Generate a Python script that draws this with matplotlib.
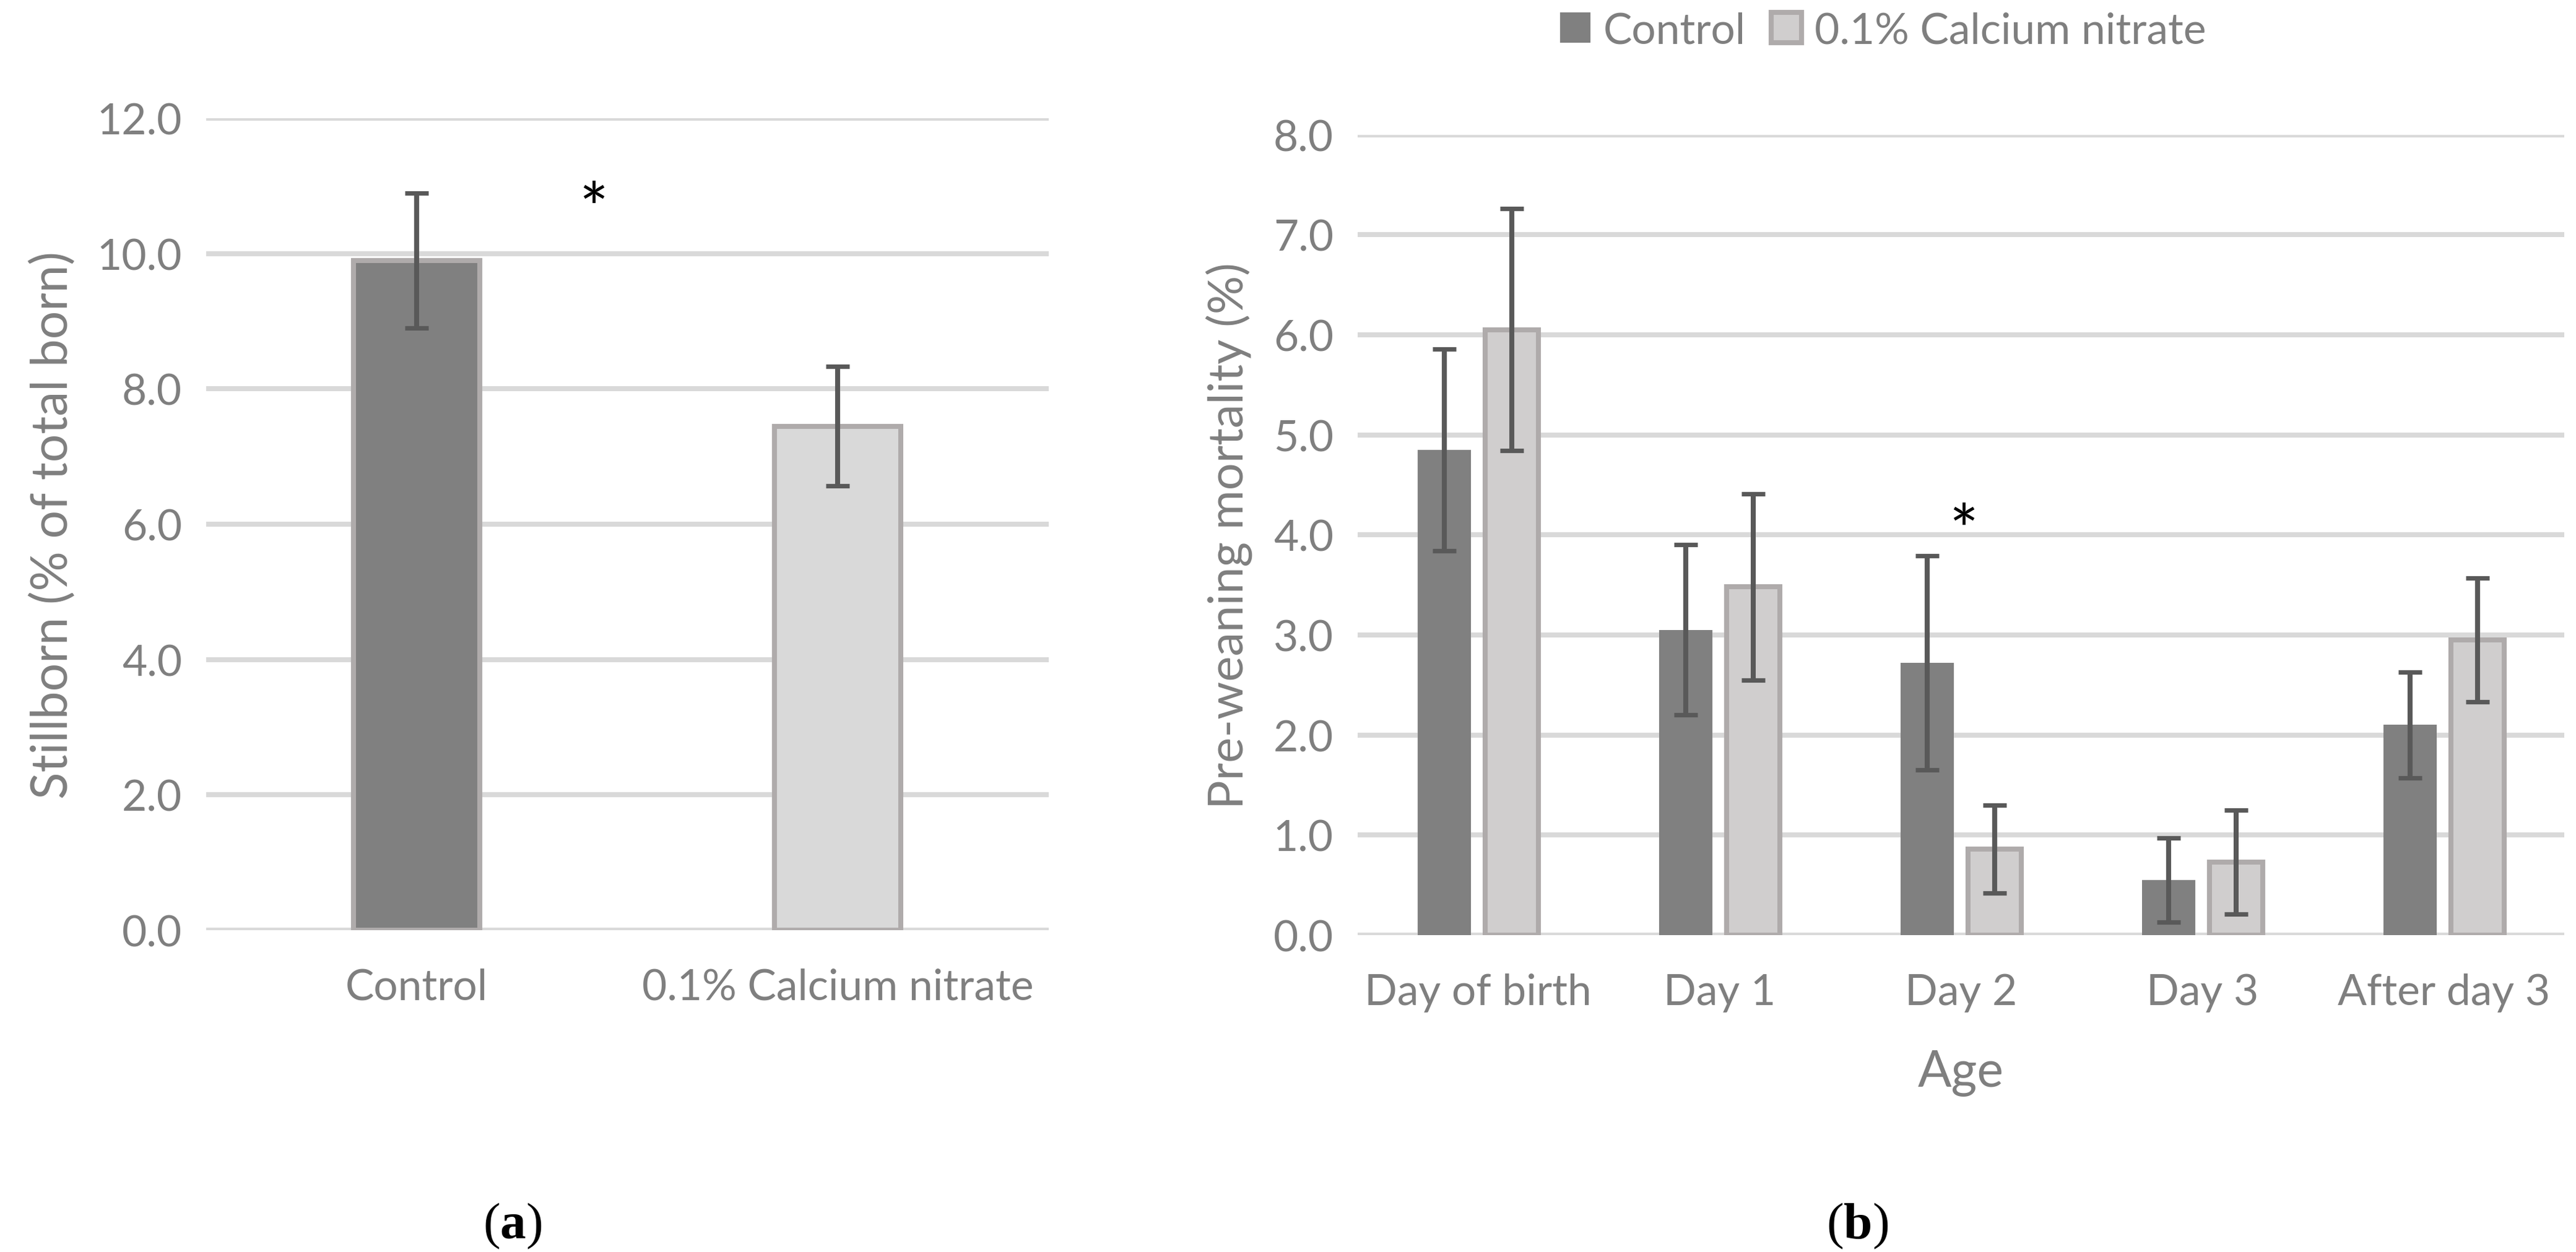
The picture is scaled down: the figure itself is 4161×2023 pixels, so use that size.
import matplotlib
matplotlib.use("Agg")
import matplotlib.pyplot as plt
import numpy as np

plt.rcParams['font.family'] = ['Lato', 'DejaVu Sans']
plt.rcParams['mathtext.fontset'] = 'custom'
plt.rcParams['mathtext.rm'] = 'Liberation Serif'
plt.rcParams['mathtext.bf'] = 'Liberation Serif:bold'

# panel (a)
groups_a = ["Control", "0.1% Calcium nitrate"]
stillborn = [9.9, 7.45]
stillborn_err = [1.0, 0.88]

# panel (b)
ages = ["Day of birth", "Day 1", "Day 2", "Day 3", "After day 3"]
ctrl = [4.85, 3.05, 2.72, 0.55, 2.1]
ctrl_err = [1.01, 0.85, 1.07, 0.42, 0.53]
calc = [6.05, 3.48, 0.86, 0.73, 2.95]
calc_err = [1.21, 0.93, 0.44, 0.52, 0.62]
series = ["Control", "0.1% Calcium nitrate"]

TXT = "#7f7f7f"
GRID = "#d9d9d9"
ERR = "#595959"
EDGE = "#afabab"
DARK = "#808080"

fig = plt.figure(figsize=(20.805, 10.12), dpi=200)

def style(ax, ymax, step):
    ax.set_ylim(0, ymax)
    ax.set_yticks(np.arange(0, ymax + 0.01, step))
    ax.set_yticklabels(["%.1f" % v for v in np.arange(0, ymax + 0.01, step)])
    ax.yaxis.grid(True, color=GRID, linewidth=2.9)
    ax.set_axisbelow(True)
    for s in ax.spines.values():
        s.set_visible(False)
    ax.tick_params(length=0, labelsize=25, colors=TXT, pad=14)
    ax.tick_params(axis='x', pad=22)

# ---- (a)
ax1 = fig.add_axes([0.080, 0.257, 0.327, 0.648])
xa = np.arange(len(groups_a))
ax1.bar(xa, stillborn, width=0.30, color=[DARK, "#d9d9d9"], edgecolor=EDGE, linewidth=2.9)
ax1.errorbar(xa, stillborn, yerr=stillborn_err, fmt="none", ecolor=ERR,
             elinewidth=2.9, capsize=7, capthick=2.6)
ax1.set_xlim(-0.5, 1.5)
style(ax1, 12, 2)
ax1.set_xticks(xa)
ax1.set_xticklabels(groups_a)
ax1.set_ylabel("Stillborn (% of total born)", fontsize=29, color=TXT, labelpad=12)
ax1.text(0.42, 10.6, "*", fontsize=40, ha="center", va="center", color="black")

# ---- (b)
ax2 = fig.add_axes([0.527, 0.253, 0.4685, 0.639])
xb = np.arange(len(ages))
w = 0.22
off = 0.14
ax2.bar(xb - off, ctrl, width=w, color=DARK, linewidth=0, label=series[0])
ax2.bar(xb + off, calc, width=w, color="#d0cece", edgecolor=EDGE, linewidth=2.9, label=series[1])
ax2.errorbar(xb - off, ctrl, yerr=ctrl_err, fmt="none", ecolor=ERR,
             elinewidth=2.9, capsize=7, capthick=2.6)
ax2.errorbar(xb + off, calc, yerr=calc_err, fmt="none", ecolor=ERR,
             elinewidth=2.9, capsize=7, capthick=2.6)
ax2.set_xlim(-0.5, 4.5)
style(ax2, 8, 1)
ax2.set_xticks(xb)
ax2.set_xticklabels(ages)
ax2.set_xlabel("Age", fontsize=29, color=TXT, labelpad=22)
ax2.set_ylabel("Pre-weaning mortality (%)", fontsize=28, color=TXT, labelpad=12)
ax2.text(2.01, 4.0, "*", fontsize=40, ha="center", va="center", color="black")

fig.legend(loc="center", bbox_to_anchor=(0.731, 0.975), ncol=2, frameon=False,
           fontsize=25, labelcolor=TXT, handlelength=0.7, handleheight=0.7,
           handletextpad=0.3, columnspacing=0.6)

fig.text(0.199, 0.021, r"($\mathbf{a}$)", fontsize=30, ha="center", va="center",
         family="Liberation Serif")
fig.text(0.721, 0.021, r"($\mathbf{b}$)", fontsize=30, ha="center", va="center",
         family="Liberation Serif")

fig.savefig("out.png", dpi=200)
